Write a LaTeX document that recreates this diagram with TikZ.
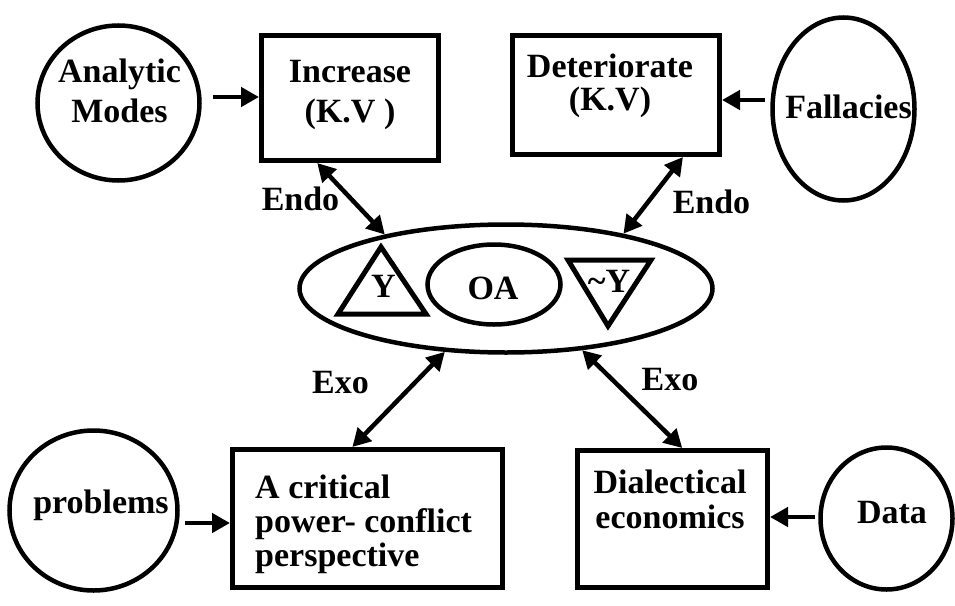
\documentclass[tikz,border=0pt]{standalone}
\usepackage{fontspec}
\setmainfont{Liberation Serif}
\usetikzlibrary{shapes.geometric,arrows.meta,calc}
\begin{document}
\begin{tikzpicture}[x=1pt,y=-1pt,
  box/.style={draw, line width=5pt, rectangle, inner sep=0pt},
  blob/.style={draw, line width=4.5pt, ellipse, inner sep=0pt},
  txt/.style={font=\fontsize{34}{40}\selectfont\bfseries, inner sep=0pt, anchor=base},
  feed/.style={line width=4.5pt, -{Triangle[length=18pt,width=19pt]}},
  link/.style={line width=4.5pt, {Triangle[length=18pt,width=19pt]}-{Triangle[length=18pt,width=19pt]}},
  tri/.style={line width=5pt, line join=miter},
]
\useasboundingbox (0,0) rectangle (955,605);

% outer shapes
\node[blob, minimum width=162pt, minimum height=155pt] (am) at (118.5,103) {};
\node[box, minimum width=177pt, minimum height=125pt] (inc) at (350,98) {};
\node[box, minimum width=207pt, minimum height=119pt] (det) at (616,95) {};
\node[blob, minimum width=142pt, minimum height=183pt] (fal) at (843.5,109) {};
\node[blob, minimum width=413pt, minimum height=128pt] (big) at (506,288.5) {};
\node[blob, minimum width=133pt, minimum height=80pt] (oa) at (494,284.5) {};
\node[box, minimum width=270pt, minimum height=138pt] (crit) at (367.5,518.5) {};
\node[blob, minimum width=168pt, minimum height=160pt] (prob) at (93.5,510.5) {};
\node[box, minimum width=190pt, minimum height=137pt] (dia) at (672.5,519) {};
\node[blob, minimum width=132pt, minimum height=142pt] (data) at (886.5,518.5) {};

% triangles inside the central ellipse
\draw[tri] (381,247) -- (338,314) -- (426,314) -- cycle;
\draw[tri] (568,260) -- (651,260) -- (608,326) -- cycle;

% labels (multi-line nodes are placed by the baseline of their last line)
\node[txt, align=center] (tam) at (119.5,122) {Analytic\\Modes};
\node[txt, align=center] (tinc) at (350,122) {Increase\\(K.V )};
\node[txt, align=center, font=\fontsize{34}{33}\selectfont\bfseries] (tdet) at (610,110) {Deteriorate\\(K.V)};
\node[txt] (tfal) at (848.5,118) {Fallacies};
\node[txt] (ty) at (383.5,297) {Y};
\node[txt] (toa) at (493,299) {OA};
\node[txt] (tny) at (609,292) {\char`\~Y};
\node[txt, align=left, anchor=base west, font=\fontsize{34}{34}\selectfont\bfseries] (tcrit) at (255,566) {A critical\\power- conflict\\perspective};
\node[txt] (tprob) at (101,513) {problems};
\node[txt, align=center, font=\fontsize{34}{35}\selectfont\bfseries] (tdia) at (670,528) {Dialectical\\economics};
\node[txt] (tdata) at (892,523) {Data};
\node[txt] (endoL) at (300.5,210) {Endo};
\node[txt] (endoR) at (711.5,213) {Endo};
\node[txt] (exoL) at (340.5,393) {Exo};
\node[txt] (exoR) at (670,390) {Exo};

% horizontal feeds
\coordinate (amT) at ([shift={(11pt,6pt)}]am.east);
\draw[feed] (amT) -- (amT -| inc.west);
\coordinate (falT) at ([shift={(-5pt,9pt)}]fal.west);
\draw[feed] (falT) -- (falT -| det.east);
\coordinate (probT) at ([shift={(5pt,-12.5pt)}]prob.east);
\draw[feed] (probT) -- (probT -| crit.west);
\coordinate (dataT) at ([shift={(-3pt,1.5pt)}]data.west);
\draw[feed] (dataT) -- (dataT -| dia.east);

% two-way links with the central ellipse
\draw[link] ($(inc.south west)!0.32!(inc.south east)$) -- (big.156);
\draw[link] ($(det.south west)!0.816!(det.south east)$) -- (big.25);
\draw[link] (big.226) -- ($(crit.north west)!0.445!(crit.north east)$);
\draw[link] (big.321) -- ($(dia.north west)!0.55!(dia.north east)$);
\end{tikzpicture}
\end{document}
